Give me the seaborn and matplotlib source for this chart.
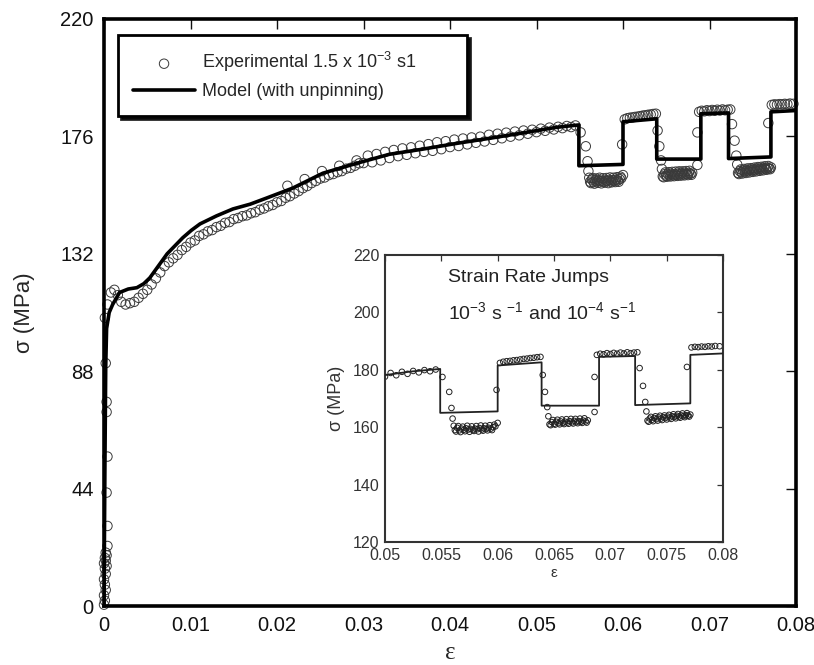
import matplotlib
matplotlib.use("Agg")
import matplotlib.pyplot as plt
import numpy as np
import pandas as pd
import seaborn as sns

sns.set_style("white")
plt.rcParams["font.family"] = ["Liberation Sans", "DejaVu Sans"]
plt.rcParams["mathtext.fontset"] = "custom"
plt.rcParams["mathtext.rm"] = "Liberation Sans"
plt.rcParams["mathtext.it"] = "Liberation Sans:italic"
plt.rcParams["mathtext.bf"] = "Liberation Sans:bold"

# ---------------- data ----------------
# experimental points: elastic loading
elastic_strain = [0.0000, 0.0001, 0.0000, 0.0002, 0.0001, 0.0000, 0.0002, 0.0001, 0.0003, 0.0000,
                  0.0002, 0.0001, 0.0003, 0.0002, 0.0004, 0.0004, 0.0003, 0.0004, 0.0003, 0.0003, 0.0002]
elastic_stress = [0.5, 2, 4, 6, 8, 10, 12, 14, 15, 16, 17, 18, 19, 20, 22.5, 30, 42.5, 56, 72.7, 76.5, 91]

# yield / plateau
yield_strain = [0.0001, 0.0004, 0.0008, 0.0012, 0.0016, 0.0020, 0.0025, 0.0030, 0.0035, 0.0040,
                0.0045, 0.0050, 0.0055]
yield_stress = [108, 113, 117.5, 118.5, 116.5, 114, 113, 113.5, 114, 115.5, 117, 118.5, 120.5]

# hardening
hard_strain = [0.0060, 0.0065, 0.0070, 0.0075, 0.0080, 0.0085, 0.0090, 0.0095, 0.0100, 0.0105,
               0.0110, 0.0115, 0.0120, 0.0125, 0.0130, 0.0135, 0.0140, 0.0145, 0.0150, 0.0155,
               0.0160, 0.0165, 0.0170, 0.0175, 0.0180, 0.0185, 0.0190, 0.0195, 0.0200, 0.0205,
               0.0210, 0.0212, 0.0215, 0.0220, 0.0225, 0.0230, 0.0232, 0.0235, 0.0240, 0.0245,
               0.0250, 0.0252, 0.0255, 0.0260, 0.0265, 0.0270, 0.0272, 0.0275, 0.0280, 0.0285,
               0.0290, 0.0292, 0.0295, 0.0300]
hard_stress = [122.8, 125.0, 127.4, 128.8, 130.3, 131.6, 133.4, 134.6, 136.2, 137.0,
               138.7, 139.3, 140.4, 140.9, 142.0, 142.5, 143.6, 143.9, 145.0, 145.4,
               146.1, 146.4, 147.2, 147.6, 148.5, 149.0, 149.8, 150.3, 151.3, 151.8,
               153.0, 157.5, 153.6, 154.6, 155.5, 156.6, 160.0, 157.4, 158.5, 159.3,
               160.2, 163.0, 160.6, 161.5, 161.9, 162.6, 165.0, 163.0, 163.9, 164.2,
               165.0, 167.0, 165.9, 166.0]

# late hardening
late_strain = [0.0305, 0.0310, 0.0315, 0.0320, 0.0325, 0.0330, 0.0335, 0.0340, 0.0345, 0.0350,
               0.0355, 0.0360, 0.0365, 0.0370, 0.0375, 0.0380, 0.0385, 0.0390, 0.0395, 0.0400,
               0.0405, 0.0410, 0.0415, 0.0420, 0.0425, 0.0430, 0.0435, 0.0440, 0.0445, 0.0450,
               0.0455, 0.0460, 0.0465, 0.0470, 0.0475, 0.0480, 0.0485, 0.0490, 0.0495, 0.0500,
               0.0505, 0.0510, 0.0515, 0.0520, 0.0525, 0.0530, 0.0535, 0.0540, 0.0545]
late_stress = [168.8, 166.3, 169.4, 167.0, 170.2, 167.9, 170.9, 168.6, 171.5, 169.1,
               171.9, 169.7, 172.5, 170.2, 173.1, 170.6, 173.8, 171.2, 174.2, 172.0,
               174.8, 172.4, 175.2, 173.0, 175.6, 173.6, 175.9, 174.1, 176.6, 174.7,
               177.0, 175.3, 177.4, 175.9, 177.8, 176.4, 178.2, 177.0, 178.5, 177.6,
               178.9, 178.1, 179.3, 178.6, 179.6, 179.1, 179.9, 179.5, 180.1]

# strain-rate jumps
jump_strain = [0.0551, 0.0557, 0.0559, 0.0560, 0.0561,
               0.0562, 0.0564, 0.0566, 0.0568, 0.0570, 0.0572, 0.0574, 0.0576, 0.0578, 0.0580,
               0.0582, 0.0584, 0.0586, 0.0588, 0.0590, 0.0592, 0.0594, 0.0596, 0.0598,
               0.0600, 0.0599,
               0.0602, 0.0605, 0.0608, 0.0611, 0.0614, 0.0617, 0.0620, 0.0623, 0.0626, 0.0629,
               0.0632, 0.0635, 0.0638,
               0.0640, 0.0642, 0.0644, 0.0645,
               0.0646, 0.0648, 0.0650, 0.0652, 0.0654, 0.0656, 0.0658, 0.0660, 0.0662, 0.0664,
               0.0666, 0.0668, 0.0670, 0.0672, 0.0674, 0.0676, 0.0678, 0.0680,
               0.0686, 0.0686,
               0.0688, 0.0691, 0.0694, 0.0697, 0.0700, 0.0703, 0.0706, 0.0709, 0.0712, 0.0715,
               0.0718, 0.0721, 0.0724,
               0.0726, 0.0729, 0.0731, 0.0732,
               0.0733, 0.0735, 0.0737, 0.0739, 0.0741, 0.0743, 0.0745, 0.0747, 0.0749, 0.0751,
               0.0753, 0.0755, 0.0757, 0.0759, 0.0761, 0.0763, 0.0765, 0.0767, 0.0769, 0.0771,
               0.0768,
               0.0772, 0.0775, 0.0778, 0.0781, 0.0784, 0.0787, 0.0790, 0.0793, 0.0797]
jump_stress = [177.5, 172.3, 166.7, 163.0, 160.5,
               159.0, 159.8, 158.9, 159.5, 159.1, 159.6, 159.2, 159.4, 159.0, 159.5,
               159.3, 159.7, 159.2, 159.6, 159.4, 159.8, 159.5, 160.0, 160.3,
               161.5, 173.0,
               182.4, 182.8, 183.0, 183.1, 183.3, 183.4, 183.6, 183.8, 183.9, 184.1,
               184.2, 184.4, 184.5,
               178.2, 172.3, 167.0, 163.8,
               161.0, 161.8, 161.2, 161.9, 161.4, 162.0, 161.5, 161.9, 161.6, 162.1,
               161.7, 162.2, 161.8, 162.1, 161.9, 162.3, 162.0, 162.4,
               165.3, 177.5,
               185.2, 185.6, 185.4, 185.8, 185.5, 185.9, 185.6, 186.0, 185.7, 186.1,
               185.8, 186.0, 186.1,
               180.6, 174.4, 168.8, 165.5,
               162.3, 163.0, 162.6, 163.2, 162.8, 163.4, 163.0, 163.5, 163.2, 163.7,
               163.4, 163.8, 163.6, 164.0, 163.7, 164.1, 163.9, 164.2, 164.0, 164.4,
               181.0,
               187.8, 188.0, 187.9, 188.1, 188.0, 188.2, 188.1, 188.3, 188.2]

# extra points filling the thick low-rate clusters
cluster_strain = [0.0563, 0.0565, 0.0567, 0.0569, 0.0571, 0.0573, 0.0575, 0.0577, 0.0579, 0.0581,
                  0.0583, 0.0585, 0.0587, 0.0589, 0.0591, 0.0593, 0.0595, 0.0597,
                  0.0647, 0.0649, 0.0651, 0.0653, 0.0655, 0.0657, 0.0659, 0.0661, 0.0663, 0.0665,
                  0.0667, 0.0669, 0.0671, 0.0673, 0.0675, 0.0677, 0.0679,
                  0.0734, 0.0736, 0.0738, 0.0740, 0.0742, 0.0744, 0.0746, 0.0748, 0.0750, 0.0752,
                  0.0754, 0.0756, 0.0758, 0.0760, 0.0762, 0.0764, 0.0766, 0.0768, 0.0770]
cluster_stress = [158.5, 160.4, 158.3, 160.2, 158.6, 160.5, 158.4, 160.3, 158.7, 160.4,
                  158.5, 160.6, 158.8, 160.5, 158.9, 160.7, 159.0, 160.9,
                  160.7, 162.5, 160.9, 162.6, 161.0, 162.7, 161.1, 162.8, 161.2, 162.9,
                  161.3, 162.9, 161.4, 163.0, 161.5, 163.1, 161.6,
                  161.9, 163.6, 162.1, 163.8, 162.3, 164.0, 162.5, 164.1, 162.7, 164.3,
                  162.9, 164.5, 163.1, 164.6, 163.3, 164.8, 163.5, 164.9, 163.7]

# model (with unpinning)
model_strain = [0.0, 0.0001, 0.0002, 0.0003, 0.0006, 0.0010, 0.0018, 0.0028, 0.0038, 0.0046,
                0.0053, 0.0063, 0.0073, 0.0082, 0.0091, 0.0101, 0.0111, 0.0130, 0.0149, 0.0169,
                0.0188, 0.0218, 0.0253, 0.0292, 0.0330, 0.0368, 0.0408, 0.0446, 0.0484, 0.0523,
                0.0549, 0.0549, 0.0600, 0.0600, 0.0639, 0.0639, 0.0690, 0.0690, 0.0722, 0.0722,
                0.0771, 0.0771, 0.0800]
model_stress = [0.0, 50, 90, 104, 110, 113, 117.5, 118.8, 119.3, 120.8,
                123, 127.5, 132, 135, 138, 140.8, 143.2, 146.2, 148.8, 150.6,
                152.9, 156.6, 162.2, 165.9, 169.3, 171.2, 173.4, 175.3, 177.3, 179.4,
                180.3, 165.0, 165.5, 181.5, 182.6, 167.5, 167.5, 184.5, 184.8, 167.7,
                168.3, 185.2, 185.7]

main_xticks = [0, 0.01, 0.02, 0.03, 0.04, 0.05, 0.06, 0.07, 0.08]
main_xlabels = ["0", "0.01", "0.02", "0.03", "0.04", "0.05", "0.06", "0.07", "0.08"]
main_yticks = [0, 44, 88, 132, 176, 220]
inset_xticks = [0.05, 0.055, 0.06, 0.065, 0.07, 0.075, 0.08]
inset_xlabels = ["0.05", "0.055", "0.06", "0.065", "0.07", "0.075", "0.08"]
inset_yticks = [120, 140, 160, 180, 200, 220]

exp_df = pd.DataFrame({
    "strain": elastic_strain + yield_strain + hard_strain + late_strain + jump_strain + cluster_strain,
    "stress": elastic_stress + yield_stress + hard_stress + late_stress + jump_stress + cluster_stress,
})
model_df = pd.DataFrame({"strain": model_strain, "stress": model_stress})

# ---------------- figure ----------------
W, H = 814, 665
fig = plt.figure(figsize=(W / 100, H / 100), dpi=100)
L, R, B, T = 104, 796, 606, 19
ax = fig.add_axes([L / W, (H - B) / H, (R - L) / W, (B - T) / H])

sns.scatterplot(data=exp_df, x="strain", y="stress", ax=ax, marker="o", s=46,
                facecolors="none", edgecolor="#3a3a3a", linewidth=0.7, clip_on=False,
                zorder=2, label="Experimental 1.5 x 10$^{-3}$ s1")
sns.lineplot(data=model_df, x="strain", y="stress", ax=ax, sort=False, estimator=None,
             color="black", linewidth=2.6, zorder=3, label="Model (with unpinning)")

ax.set_xlim(0, 0.08)
ax.set_ylim(0, 220)
ax.set_xticks(main_xticks, main_xlabels)
ax.set_yticks(main_yticks, [str(v) for v in main_yticks])
ax.tick_params(direction="in", top=True, right=True, length=7, width=1.0,
               labelsize=14.5, pad=7.5, colors="#111111")
for sp in ax.spines.values():
    sp.set_linewidth(2.6)
    sp.set_color("black")
ax.set_xlabel("ε", family=["Liberation Serif", "DejaVu Serif"], fontsize=18)
ax.set_ylabel("σ (MPa)", fontsize=16)
ax.xaxis.set_label_coords(0.5, -0.062)
ax.yaxis.set_label_coords(-0.100, 0.5)

leg = ax.legend(loc="upper left",
                bbox_to_anchor=(118 / W, 1 - 35 / H, (467 - 118) / W, 0.0),
                bbox_transform=fig.transFigure, mode="expand", frameon=True,
                fancybox=False, shadow={"color": "black", "alpha": 0.85},
                edgecolor="black", fontsize=13, handlelength=3.4, handletextpad=0.4,
                borderpad=0.85, labelspacing=0.5, borderaxespad=0.0)
leg.get_frame().set_linewidth(2.0)
leg.get_frame().set_facecolor("white")
leg.get_frame().set_alpha(1)

# ---------------- inset ----------------
iL, iR, iB, iT = 385, 723, 542, 255
axin = fig.add_axes([iL / W, (H - iB) / H, (iR - iL) / W, (iB - iT) / H])
axin.set_facecolor("white")
sns.scatterplot(data=exp_df, x="strain", y="stress", ax=axin, marker="o", s=16,
                facecolors="none", edgecolor="#222222", linewidth=0.7, zorder=2,
                legend=False)
sns.lineplot(data=model_df, x="strain", y="stress", ax=axin, sort=False, estimator=None,
             color="#222222", linewidth=1.3, zorder=3, legend=False)
axin.set_xlim(0.05, 0.08)
axin.set_ylim(120, 220)
axin.set_xticks(inset_xticks, inset_xlabels)
axin.set_yticks(inset_yticks, [str(v) for v in inset_yticks])
axin.tick_params(direction="in", top=True, right=True, length=4, width=0.9,
                 labelsize=11.5, pad=4, colors="#333333")
for sp in axin.spines.values():
    sp.set_linewidth(1.5)
    sp.set_color("#333333")
axin.set_xlabel("ε", fontsize=11, color="#333333")
axin.set_ylabel("σ (MPa)", fontsize=13, color="#333333")
axin.xaxis.set_label_coords(0.5, -0.085)
axin.yaxis.set_label_coords(-0.118, 0.5)
axin.text(0.186, 0.92, "Strain Rate Jumps", transform=axin.transAxes,
          fontsize=14, ha="left", va="center", color="#222222")
axin.text(0.186, 0.80, "10$^{-3}$ s $^{-1}$ and 10$^{-4}$ s$^{-1}$", transform=axin.transAxes,
          fontsize=14, ha="left", va="center", color="#222222")

fig.savefig("out.png", dpi=100)
